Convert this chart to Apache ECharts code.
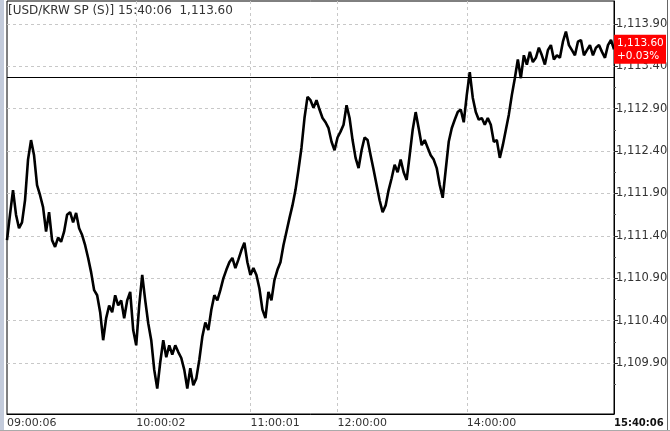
<!DOCTYPE html>
<html><head><meta charset="utf-8">
<script src="https://cdn.jsdelivr.net/npm/echarts@6/dist/echarts.min.js"></script>
<style>html,body{margin:0;padding:0;background:#fff}#c{width:670px;height:431px}</style>
</head><body><div id="c"></div><script>
const title = 'USD/KRW SP (S)';
const times = ['09:00:06','10:00:02','11:00:01','12:00:00','14:00:00','15:40:06'];
const timeIdx = [0, 43, 81, 110, 153, 202];
const yTicks = [1109.9,1110.4,1110.9,1111.4,1111.9,1112.4,1112.9,1113.4,1113.9];
const yMinor = [1109.65,1110.15,1110.65,1111.15,1111.65,1112.15,1112.65,1113.15,1113.65];
const prevClose = 1113.27;
const yMin = 1109.30, yMax = 1114.17;
const prices = [
1111.35,1111.65,1111.94,1111.65,1111.49,1111.56,1111.82,1112.30,1112.53,1112.35,
1112.00,1111.88,1111.74,1111.45,1111.68,1111.35,1111.27,1111.38,1111.33,1111.45,
1111.65,1111.68,1111.56,1111.67,1111.49,1111.41,1111.29,1111.14,1110.97,1110.76,
1110.70,1110.50,1110.17,1110.43,1110.58,1110.50,1110.70,1110.58,1110.64,1110.43,
1110.64,1110.74,1110.29,1110.11,1110.58,1110.94,1110.64,1110.37,1110.17,1109.82,
1109.60,1109.91,1110.17,1109.97,1110.11,1110.00,1110.11,1110.03,1109.96,1109.82,
1109.60,1109.84,1109.64,1109.72,1109.94,1110.21,1110.38,1110.29,1110.53,1110.70,
1110.64,1110.76,1110.90,1111.00,1111.09,1111.14,1111.02,1111.12,1111.23,1111.32,
1111.09,1110.94,1111.02,1110.94,1110.78,1110.53,1110.43,1110.74,1110.64,1110.88,
1111.00,1111.09,1111.29,1111.45,1111.61,1111.76,1111.94,1112.18,1112.44,1112.79,
1113.04,1113.00,1112.91,1113.00,1112.89,1112.79,1112.74,1112.67,1112.51,1112.41,
1112.56,1112.63,1112.71,1112.94,1112.79,1112.53,1112.32,1112.20,1112.41,1112.56,
1112.53,1112.35,1112.18,1112.00,1111.82,1111.68,1111.76,1111.94,1112.08,1112.24,
1112.15,1112.30,1112.15,1112.06,1112.35,1112.65,1112.86,1112.67,1112.47,1112.53,
1112.44,1112.35,1112.30,1112.20,1112.00,1111.85,1112.18,1112.51,1112.67,1112.77,
1112.86,1112.89,1112.74,1113.06,1113.33,1113.03,1112.86,1112.77,1112.79,1112.71,
1112.79,1112.71,1112.51,1112.53,1112.32,1112.47,1112.65,1112.83,1113.06,1113.26,
1113.48,1113.26,1113.53,1113.42,1113.57,1113.45,1113.50,1113.62,1113.53,1113.42,
1113.59,1113.65,1113.48,1113.53,1113.50,1113.69,1113.81,1113.65,1113.59,1113.53,
1113.69,1113.71,1113.53,1113.59,1113.65,1113.53,1113.62,1113.65,1113.57,1113.50,
1113.65,1113.71,1113.60
];

const fmt = v => v.toLocaleString('en-US',{minimumFractionDigits:2,maximumFractionDigits:2});
const font = '"DejaVu Sans", Verdana, sans-serif';
const N = prices.length;
const lastIdx = N - 1, last = prices[lastIdx];
const chg = (last - prevClose) / prevClose * 100;
const chgTxt = (chg >= 0 ? '+' : '') + chg.toFixed(2) + '%';
const labelMap = {};
timeIdx.forEach((k, j) => { labelMap[k] = times[j]; });
const cats = prices.map((_, i) => String(i));

const chart = echarts.init(document.getElementById('c'), null, {renderer:'canvas'});
chart.setOption({
  animation: false,
  grid: {left:7, right:56, top:1, bottom:17, show:true, borderColor:'#000', borderWidth:1, backgroundColor:'#fff', outerBoundsMode:'none'},
  xAxis: {
    type:'category', data:cats, boundaryGap:false,
    axisLine:{show:true, lineStyle:{color:'#000', width:1}},
    axisTick:{show:false},
    axisLabel:{
      interval:(i) => labelMap[i] !== undefined,
      formatter:(v, i) => i === lastIdx ? '{b|' + labelMap[i] + '}' : (labelMap[i] || ''),
      align:'left', margin:4, color:'#333', fontSize:11, fontFamily:font,
      rich:{b:{fontWeight:'bold', color:'#111', fontSize:10, fontFamily:font}}
    },
    splitLine:{show:true, interval:(i) => labelMap[i] !== undefined && i !== 0 && i !== lastIdx,
      lineStyle:{color:'#c8c8c8', type:[3,3], width:1}}
  },
  yAxis: [{
    type:'value', position:'right', min:yMin, max:yMax,
    axisLine:{show:true, lineStyle:{color:'#000', width:1}},
    axisTick:{show:true, length:4, customValues:yTicks, lineStyle:{color:'#333'}},
    axisLabel:{customValues:yTicks, formatter:(v) => fmt(v), margin:2, color:'#333', fontSize:11.5, fontFamily:font},
    splitLine:{show:true, lineStyle:{color:'#c8c8c8', type:[3,3], width:1}}
  },{
    type:'value', position:'right', min:yMin, max:yMax,
    axisLine:{show:false},
    axisTick:{show:true, length:2, customValues:yMinor, lineStyle:{color:'#555'}},
    axisLabel:{show:false}, splitLine:{show:false}
  }],
  series: [{
    type:'line', data:prices, symbol:'none', showSymbol:false, clip:true,
    lineStyle:{color:'#000', width:2.6},
    emphasis:{disabled:true},
    markLine:{silent:true, symbol:'none', label:{show:false}, emphasis:{disabled:true},
      lineStyle:{color:'#000', width:1, type:'solid'}, data:[{yAxis:prevClose}]},
    markPoint:{silent:true, symbol:'rect', symbolSize:[52,29], symbolOffset:[26,0],
      itemStyle:{color:'#ff0000'},
      label:{show:true, position:'insideLeft', distance:3, color:'#fff', fontSize:10.5, lineHeight:13, fontFamily:font,
        formatter: fmt(last) + '\n' + chgTxt},
      data:[{coord:[lastIdx, last]}]}
  }],
  graphic: [
    {type:'text', left:8, top:5, z:100, style:{text:'[' + title + '] ' + times[times.length-1] + '  ' + fmt(last), font:'12px ' + font, fill:'#333'}},
    {type:'rect', shape:{x:0, y:0, width:4, height:431}, z:100, style:{fill:'#c3cbdb'}},
    {type:'rect', shape:{x:667, y:0, width:3, height:431}, z:100, style:{fill:'#fff'}},
    {type:'line', shape:{x1:667.5, y1:0, x2:667.5, y2:431}, z:101, style:{stroke:'#666', lineWidth:1}},
    {type:'line', shape:{x1:0, y1:430.5, x2:670, y2:430.5}, z:101, style:{stroke:'#aaa', lineWidth:1}}
  ]
});
</script></body></html>
